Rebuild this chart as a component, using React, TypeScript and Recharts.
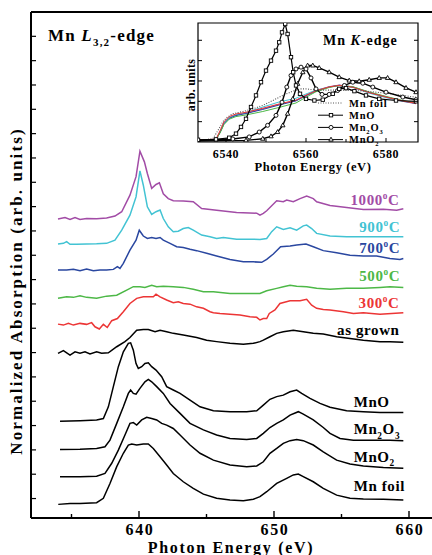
import React from "react";
import {
  LineChart,
  Line,
  XAxis,
  YAxis,
  ReferenceLine,
  ReferenceDot,
  ReferenceArea,
  Legend,
} from "recharts";

type Pt = [number, number];

// ---- Mn L3,2-edge (photon energy in eV, stacked absorption in arb. units) ----
const lT1000: Pt[] = [
  [634.0, 11.49], [634.52, 11.55], [634.89, 11.47], [635.26, 11.55], [635.63, 11.47], [636.12, 11.51],
  [636.86, 11.5], [637.6, 11.53], [638.22, 11.61], [638.72, 11.79], [639.33, 12.47], [639.78, 13.23],
  [640.07, 14.28], [640.4, 13.84], [640.62, 13.36], [640.94, 12.75], [641.26, 12.91], [641.51, 12.98],
  [641.8, 12.53], [642.17, 12.33], [642.54, 12.24], [643.28, 12.23], [644.02, 12.2], [644.64, 11.92],
  [645.75, 11.85], [647.23, 11.76], [648.72, 11.73], [648.96, 11.65], [649.21, 11.72], [649.46, 11.83],
  [650.2, 12.24], [650.69, 12.2], [650.94, 12.27], [651.43, 12.2], [651.93, 12.33], [652.42, 12.43],
  [652.91, 12.33], [653.16, 12.2], [654.15, 12.05], [655.38, 11.96], [656.62, 11.88], [658.1, 11.89],
  [659.09, 11.85], [659.58, 11.91],
];
const lT900: Pt[] = [
  [634.0, 10.46], [634.4, 10.49], [634.64, 10.56], [634.89, 10.45], [635.38, 10.45], [636.12, 10.46],
  [636.86, 10.47], [637.6, 10.49], [638.22, 10.62], [638.72, 11.03], [639.33, 11.65], [639.78, 12.4],
  [640.07, 13.47], [640.32, 12.88], [640.62, 11.99], [640.94, 11.68], [641.26, 11.79], [641.56, 11.86],
  [641.8, 11.51], [642.17, 11.17], [642.54, 10.97], [642.91, 10.99], [643.28, 11.1], [643.65, 11.14],
  [644.02, 11.03], [644.64, 10.83], [645.26, 10.76], [645.75, 10.69], [646.25, 10.73], [647.23, 10.66],
  [648.22, 10.66], [648.96, 10.65], [649.46, 10.69], [649.83, 10.97], [650.2, 11.17], [650.69, 11.06],
  [651.19, 11.13], [651.68, 11.03], [652.17, 11.21], [652.42, 11.24], [652.79, 11.1], [653.16, 10.9],
  [654.15, 10.79], [655.38, 10.76], [656.62, 10.76], [658.1, 10.76], [659.58, 10.76],
];
const lT700: Pt[] = [
  [634.0, 9.39], [634.64, 9.39], [635.14, 9.42], [635.63, 9.36], [636.12, 9.43], [636.62, 9.36],
  [637.11, 9.39], [637.6, 9.39], [638.1, 9.42], [638.4, 9.53], [638.59, 9.46], [638.84, 9.67],
  [639.33, 10.21], [639.78, 10.62], [640.02, 11.03], [640.32, 10.79], [640.62, 10.69], [640.94, 10.73],
  [641.26, 10.69], [641.56, 10.73], [641.8, 10.62], [642.3, 10.49], [642.79, 10.35], [643.28, 10.32],
  [643.78, 10.25], [644.27, 10.19], [645.01, 10.08], [645.75, 9.97], [646.74, 9.83], [647.73, 9.73],
  [648.47, 9.73], [649.09, 9.71], [649.46, 9.83], [649.95, 10.05], [650.49, 10.35], [651.19, 10.38],
  [651.68, 10.42], [652.37, 10.46], [652.91, 10.35], [653.65, 10.19], [654.64, 10.1], [655.63, 10.0],
  [656.62, 9.97], [657.6, 9.97], [658.59, 9.87], [659.33, 9.83], [659.58, 9.87],
];
const lT500: Pt[] = [
  [634.0, 8.23], [634.64, 8.29], [635.14, 8.27], [635.63, 8.34], [636.12, 8.27], [636.86, 8.23],
  [637.6, 8.32], [638.35, 8.36], [639.09, 8.57], [639.58, 8.71], [640.07, 8.71], [640.44, 8.68],
  [640.94, 8.77], [641.31, 8.71], [641.8, 8.73], [642.54, 8.71], [643.28, 8.68], [644.02, 8.6],
  [644.77, 8.5], [645.51, 8.5], [646.74, 8.43], [647.98, 8.43], [648.96, 8.43], [649.46, 8.54],
  [650.2, 8.64], [650.69, 8.71], [651.19, 8.77], [651.68, 8.73], [652.42, 8.71], [653.16, 8.64],
  [654.15, 8.6], [655.38, 8.64], [656.62, 8.64], [657.85, 8.68], [658.59, 8.71], [659.58, 8.68],
];
const lT300: Pt[] = [
  [634.0, 7.17], [634.4, 7.13], [634.77, 7.2], [635.14, 7.13], [635.63, 7.2], [636.12, 7.16],
  [636.49, 7.23], [636.74, 7.06], [637.06, 6.97], [637.36, 7.16], [637.65, 7.03], [637.98, 7.31],
  [638.4, 7.4], [638.84, 7.68], [639.33, 8.02], [639.83, 8.23], [640.32, 8.29], [640.69, 8.29],
  [641.06, 8.29], [641.26, 8.4], [641.56, 8.29], [642.05, 8.16], [642.54, 8.05], [642.91, 8.09],
  [643.28, 8.02], [643.78, 7.99], [644.27, 7.88], [644.77, 7.82], [645.26, 7.68], [645.51, 7.64],
  [646.0, 7.61], [646.74, 7.58], [647.48, 7.54], [648.22, 7.47], [648.72, 7.45], [648.96, 7.34],
  [649.21, 7.4], [649.46, 7.4], [649.65, 7.61], [650.07, 7.75], [650.44, 8.02], [651.19, 8.13],
  [651.93, 8.13], [652.42, 8.19], [652.79, 7.95], [653.16, 7.82], [653.65, 7.77], [654.15, 7.75],
  [655.14, 7.68], [655.88, 7.61], [656.62, 7.64], [657.85, 7.58], [659.58, 7.64],
];
const lGrown: Pt[] = [
  [634.0, 5.97], [634.4, 6.08], [634.89, 5.9], [635.26, 6.03], [635.63, 5.97], [636.0, 6.03],
  [636.37, 5.94], [636.86, 6.03], [637.23, 5.97], [637.73, 5.99], [638.35, 6.24], [638.96, 6.45],
  [639.33, 6.62], [639.83, 6.92], [640.32, 6.95], [640.69, 6.95], [641.19, 6.86], [641.56, 6.92],
  [642.05, 6.86], [642.54, 6.79], [643.28, 6.72], [644.27, 6.62], [645.01, 6.51], [645.75, 6.45],
  [646.74, 6.38], [647.73, 6.34], [648.47, 6.38], [648.96, 6.45], [649.21, 6.51], [649.7, 6.65],
  [650.2, 6.79], [650.69, 6.86], [651.43, 6.92], [652.17, 6.86], [652.91, 6.79], [653.65, 6.76],
  [654.64, 6.65], [655.63, 6.58], [656.62, 6.51], [657.85, 6.45], [658.59, 6.45], [659.58, 6.42],
];
const lMnO: Pt[] = [
  [634.15, 3.18], [635.63, 3.2], [636.86, 3.23], [637.36, 3.29], [637.73, 3.77], [638.1, 4.6],
  [638.47, 5.42], [638.84, 6.03], [639.21, 6.38], [639.38, 6.4], [639.58, 6.1], [639.78, 5.55],
  [639.95, 5.35], [640.2, 5.42], [640.44, 5.55], [640.69, 5.58], [640.94, 5.42], [641.26, 5.28],
  [641.68, 5.01], [642.05, 4.6], [642.54, 4.46], [643.04, 4.32], [643.78, 4.05], [644.52, 3.77],
  [645.51, 3.61], [646.74, 3.57], [647.98, 3.57], [648.72, 3.61], [649.21, 3.84], [649.7, 4.08],
  [650.2, 4.19], [650.69, 4.25], [651.19, 4.39], [651.68, 4.46], [652.05, 4.32], [652.67, 4.12],
  [653.41, 3.91], [654.15, 3.75], [655.38, 3.61], [656.62, 3.57], [657.85, 3.54], [659.58, 3.54],
];
const lMn2O3: Pt[] = [
  [634.15, 2.02], [635.63, 2.03], [636.86, 2.06], [637.48, 2.13], [637.85, 2.4], [638.35, 3.09],
  [638.84, 3.77], [639.21, 4.32], [639.38, 4.46], [639.58, 4.32], [639.78, 4.29], [640.07, 4.53],
  [640.44, 4.8], [640.69, 4.9], [640.94, 4.8], [641.31, 4.6], [641.8, 4.32], [642.3, 3.91],
  [643.04, 3.5], [643.78, 3.09], [644.77, 2.82], [645.75, 2.61], [646.74, 2.47], [647.98, 2.43],
  [648.72, 2.47], [649.21, 2.68], [649.7, 2.92], [650.2, 3.09], [650.69, 3.23], [651.19, 3.43],
  [651.8, 3.57], [652.17, 3.47], [652.91, 3.23], [653.65, 2.92], [654.15, 2.68], [654.89, 2.47],
  [655.88, 2.4], [657.11, 2.4], [658.59, 2.4], [659.58, 2.38],
];
const lMnO2: Pt[] = [
  [634.15, 0.9], [635.63, 0.9], [636.86, 0.92], [637.48, 1.03], [637.98, 1.45], [638.47, 1.99],
  [638.96, 2.61], [639.33, 3.09], [639.58, 3.12], [639.83, 3.02], [640.2, 3.23], [640.57, 3.34],
  [640.94, 3.29], [641.31, 3.23], [641.68, 3.09], [642.05, 3.02], [642.54, 2.88], [643.04, 2.61],
  [643.78, 2.2], [644.52, 1.86], [645.51, 1.58], [646.74, 1.38], [647.98, 1.31], [648.72, 1.34],
  [649.21, 1.51], [649.7, 1.86], [650.2, 2.06], [650.69, 2.27], [651.19, 2.38], [651.68, 2.43],
  [652.17, 2.38], [652.91, 2.2], [653.65, 1.92], [654.64, 1.58], [655.63, 1.42], [656.62, 1.34],
  [658.1, 1.28], [659.58, 1.24],
];
const lMnFoil: Pt[] = [
  [634.02, -0.24], [634.89, -0.2], [635.63, -0.2], [636.86, -0.17], [637.36, 0.01], [637.85, 0.62],
  [638.35, 1.31], [638.84, 1.86], [639.21, 2.2], [639.46, 2.24], [639.83, 2.2], [640.32, 2.24],
  [640.69, 2.24], [641.06, 2.06], [641.56, 1.72], [642.05, 1.38], [642.54, 1.03], [643.28, 0.69],
  [644.02, 0.42], [644.77, 0.18], [645.75, 0.01], [646.74, -0.06], [647.73, -0.09], [648.47, -0.03],
  [648.96, 0.08], [649.46, 0.28], [650.2, 0.62], [650.94, 0.83], [651.43, 0.97], [651.8, 1.01],
  [652.17, 0.9], [652.91, 0.69], [653.65, 0.42], [654.64, 0.14], [655.63, 0.01], [656.62, -0.02],
  [658.1, -0.03], [659.58, -0.06],
];

// ---- Mn K-edge inset (photon energy in eV, arb. units) ----
const kMnO: Pt[] = [
  [6533, 0.11], [6537.5, 0.13], [6540.8, 0.21], [6542.5, 0.41], [6543.75, 0.74], [6545, 1.14],
  [6546.25, 1.72], [6547.5, 2.29], [6548.75, 2.94], [6550, 3.51], [6551.25, 4.0], [6552.5, 4.49],
  [6553.3, 4.9], [6554, 5.39], [6554.8, 5.8], [6555.4, 5.31], [6556.25, 4.17], [6556.8, 3.43],
  [6557.5, 2.78], [6558.5, 2.37], [6560, 2.12], [6562.1, 2.04], [6564.2, 2.08], [6566.7, 2.37],
  [6568.3, 2.61], [6570, 2.65], [6572.1, 2.5], [6575, 2.29], [6578.3, 2.12], [6582.5, 2.04], [6587.5, 2.0],
];
const kMn2O3: Pt[] = [
  [6533, 0.08], [6541.7, 0.15], [6545.8, 0.25], [6548.3, 0.49], [6550.4, 0.82], [6552.5, 1.31],
  [6554, 1.96], [6555.2, 2.7], [6556.25, 3.27], [6557.5, 3.59], [6558.75, 3.68], [6560, 3.59],
  [6561.25, 3.15], [6562.5, 2.61], [6564, 2.34], [6565.8, 2.34], [6567.9, 2.53], [6569.6, 2.78],
  [6571.7, 2.94], [6574.2, 2.89], [6576.7, 2.7], [6580, 2.45], [6584.2, 2.21], [6587.5, 2.08],
];
const kMnO2: Pt[] = [
  [6533, 0.05], [6545, 0.08], [6549.2, 0.16], [6551.25, 0.28], [6552.9, 0.49], [6554.2, 0.82],
  [6555.4, 1.39], [6556.7, 2.12], [6557.9, 2.86], [6559.2, 3.43], [6560.4, 3.76], [6561.7, 3.76],
  [6563.3, 3.64], [6565.8, 3.43], [6568.3, 3.19], [6570.8, 3.02], [6573.3, 2.99], [6575.8, 3.06],
  [6578.3, 3.15], [6580.4, 3.15], [6582.5, 2.94], [6585, 2.66], [6587.5, 2.45],
];
const kMnFoil: Pt[] = [
  [6533, 0.08], [6536.7, 0.16], [6537.5, 0.41], [6538.5, 0.74], [6539.2, 1.0], [6540.4, 1.23],
  [6541.7, 1.39], [6544.2, 1.5], [6546.7, 1.63], [6549.2, 1.8], [6551.7, 2.04], [6554.2, 2.29],
  [6556.7, 2.5], [6558.5, 2.61], [6560, 2.61], [6562.5, 2.55], [6565, 2.55], [6570, 2.55],
  [6575, 2.5], [6580, 2.4], [6587.5, 2.2],
];
const kT1000: Pt[] = [
  [6533, 0.1], [6537.5, 0.13], [6538.5, 0.5], [6539.5, 0.95], [6540.8, 1.2], [6542.5, 1.33],
  [6545, 1.42], [6549.2, 1.63], [6553.3, 1.85], [6557.5, 2.04], [6560, 2.3], [6562.5, 2.53],
  [6565.8, 2.72], [6568.3, 2.8], [6571.7, 2.7], [6575.8, 2.42], [6580, 2.2], [6584.2, 2.0], [6587.5, 1.88],
];
const kT900: Pt[] = [
  [6533, 0.1], [6537.5, 0.13], [6538.5, 0.48], [6539.5, 0.92], [6540.8, 1.18], [6542.5, 1.32],
  [6545, 1.45], [6549.2, 1.72], [6553.3, 1.97], [6557.5, 2.15], [6560, 2.36], [6562.5, 2.55],
  [6565.8, 2.7], [6568.3, 2.77], [6571.7, 2.68], [6575.8, 2.4], [6580, 2.18], [6584.2, 2.0], [6587.5, 1.9],
];
const kT700: Pt[] = [
  [6533, 0.1], [6537.5, 0.12], [6538.5, 0.46], [6539.5, 0.9], [6540.8, 1.16], [6542.5, 1.3],
  [6545, 1.4], [6549.2, 1.6], [6553.3, 1.82], [6557.5, 2.02], [6560, 2.27], [6562.5, 2.5],
  [6565.8, 2.7], [6568.3, 2.79], [6571.7, 2.71], [6575.8, 2.44], [6580, 2.22], [6584.2, 2.02], [6587.5, 1.9],
];
const kT500: Pt[] = [
  [6533, 0.1], [6537.5, 0.12], [6538.5, 0.44], [6539.5, 0.86], [6540.8, 1.12], [6542.5, 1.25],
  [6545, 1.33], [6549.2, 1.5], [6553.3, 1.7], [6557.5, 1.92], [6560, 2.2], [6562.5, 2.47],
  [6565.8, 2.68], [6568.3, 2.78], [6571.7, 2.72], [6575.8, 2.46], [6580, 2.24], [6584.2, 2.04], [6587.5, 1.92],
];
const kT300: Pt[] = [
  [6533, 0.1], [6537.5, 0.14], [6538.5, 0.55], [6539.5, 1.0], [6540.8, 1.25], [6542.5, 1.38],
  [6545, 1.46], [6549.2, 1.66], [6553.3, 1.87], [6557.5, 2.06], [6560, 2.3], [6562.5, 2.52],
  [6565.8, 2.71], [6568.3, 2.78], [6571.7, 2.69], [6575.8, 2.43], [6580, 2.21], [6584.2, 2.02], [6587.5, 1.9],
];

const mainXTicks = [635, 640, 645, 650, 655, 660];
const mainYTicks = [0, 1, 2, 3, 4, 5, 6, 7, 8, 9, 10, 11, 12, 13, 14, 15, 16, 17, 18, 19, 20];
const insetXTicks = [6540, 6550, 6560, 6570, 6580];
const insetYTicks = [1, 2, 3, 4, 5];

type Part = [string, "" | "sub" | "sup"];
const tag1000: Part[] = [["1000", ""], ["o", "sup"], ["C", ""]];
const tag900: Part[] = [["900", ""], ["o", "sup"], ["C", ""]];
const tag700: Part[] = [["700", ""], ["o", "sup"], ["C", ""]];
const tag500: Part[] = [["500", ""], ["o", "sup"], ["C", ""]];
const tag300: Part[] = [["300", ""], ["o", "sup"], ["C", ""]];
const tagGrown: Part[] = [["as grown", ""]];
const tagMnO: Part[] = [["MnO", ""]];
const tagMn2O3: Part[] = [["Mn", ""], ["2", "sub"], ["O", ""], ["3", "sub"]];
const tagMnO2: Part[] = [["MnO", ""], ["2", "sub"]];
const tagMnFoil: Part[] = [["Mn foil", ""]];

const C1000 = "#a24ca6";
const C900 = "#42c3d3";
const C700 = "#2a47a0";
const C500 = "#4db847";
const C300 = "#ec3535";

const toRows = (pts: Pt[]) => pts.map(([e, a]) => ({ e, a }));

const mainSeries = [
  { name: "1000", pts: lT1000, color: C1000, tag: tag1000, at: [659.3, 12.27], anchor: "end" },
  { name: "900", pts: lT900, color: C900, tag: tag900, at: [659.35, 11.17], anchor: "end" },
  { name: "700", pts: lT700, color: C700, tag: tag700, at: [659.35, 10.28], anchor: "end" },
  { name: "500", pts: lT500, color: C500, tag: tag500, at: [659.35, 9.16], anchor: "end" },
  { name: "300", pts: lT300, color: C300, tag: tag300, at: [659.3, 8.05], anchor: "end" },
  { name: "grown", pts: lGrown, color: "#000", tag: tagGrown, at: [659.3, 6.93], anchor: "end" },
  { name: "MnO", pts: lMnO, color: "#000", tag: tagMnO, at: [655.9, 3.95], anchor: "start" },
  { name: "Mn2O3", pts: lMn2O3, color: "#000", tag: tagMn2O3, at: [655.9, 2.84], anchor: "start" },
  { name: "MnO2", pts: lMnO2, color: "#000", tag: tagMnO2, at: [655.9, 1.72], anchor: "start" },
  { name: "foil", pts: lMnFoil, color: "#000", tag: tagMnFoil, at: [655.9, 0.51], anchor: "start" },
];

const insetSamples = [
  { name: "k1000", pts: kT1000, color: C1000 },
  { name: "k900", pts: kT900, color: C900 },
  { name: "k700", pts: kT700, color: C700 },
  { name: "k500", pts: kT500, color: C500 },
  { name: "k300", pts: kT300, color: C300 },
];

const SERIF = "'Liberation Serif', 'Times New Roman', serif";
const bold = (size: number, ls = 0): React.CSSProperties => ({
  fontFamily: SERIF,
  fontWeight: 700,
  fontSize: size,
  letterSpacing: ls,
});

function RichText({ parts, size }: { parts: Part[]; size: number }) {
  let shift = 0;
  return (
    <>
      {parts.map(([s, kind], i) => {
        const target = kind === "sup" ? -size * 0.4 : kind === "sub" ? size * 0.3 : 0;
        const dy = target - shift;
        shift = target;
        return (
          <tspan key={i} dy={dy} fontSize={kind ? size * 0.62 : size}>
            {s}
          </tspan>
        );
      })}
    </>
  );
}

const MainXTick = (props: any) => {
  const { x, y, payload } = props;
  const major = payload.value % 10 === 0;
  return (
    <g>
      <line x1={x} x2={x} y1={y} y2={y - (major ? 7 : 4)} stroke="#000" strokeWidth={1.4} />
      {major && (
        <text x={x + 1} y={y + 16.5} textAnchor="middle" fill="#000" style={bold(16, 1.6)}>
          {payload.value}
        </text>
      )}
    </g>
  );
};

const MainYTick = (props: any) => {
  const { x, y } = props;
  return <line x1={x} x2={x + 5} y1={y} y2={y} stroke="#000" strokeWidth={1.2} />;
};

const InsetXTick = (props: any) => {
  const { x, y, payload } = props;
  const major = payload.value % 20 === 0;
  return (
    <g>
      <line x1={x} x2={x} y1={y} y2={y - (major ? 4 : 3)} stroke="#000" strokeWidth={1} />
      {major && (
        <text x={x} y={y + 15.5} textAnchor="middle" fill="#000" style={bold(12, 0.6)}>
          {payload.value}
        </text>
      )}
    </g>
  );
};

const InsetLTick = (props: any) => (
  <line x1={props.x} x2={props.x + 4} y1={props.y} y2={props.y} stroke="#000" strokeWidth={1} />
);
const InsetRTick = (props: any) => (
  <line x1={props.x} x2={props.x - 4} y1={props.y} y2={props.y} stroke="#000" strokeWidth={1} />
);

const SquareDot = (p: any) =>
  p.cx == null ? <g /> : (
    <rect x={p.cx - 1.7} y={p.cy - 1.7} width={3.4} height={3.4} fill="#fff" stroke="#000" strokeWidth={0.9} />
  );
const CircleDot = (p: any) =>
  p.cx == null ? <g /> : <circle cx={p.cx} cy={p.cy} r={2} fill="#fff" stroke="#000" strokeWidth={0.9} />;
const TriDot = (p: any) =>
  p.cx == null ? <g /> : (
    <path
      d={`M${p.cx},${p.cy - 2.4}L${p.cx + 2.2},${p.cy + 1.5}L${p.cx - 2.2},${p.cy + 1.5}Z`}
      fill="#fff"
      stroke="#000"
      strokeWidth={0.9}
    />
  );

const insetLegendItems: { parts: Part[]; marker: string }[] = [
  { parts: [["Mn foil", ""]], marker: "dotted" },
  { parts: [["MnO", ""]], marker: "square" },
  { parts: [["Mn", ""], ["2", "sub"], ["O", ""], ["3", "sub"]], marker: "circle" },
  { parts: [["MnO", ""], ["2", "sub"]], marker: "triangle" },
];

const InsetLegend = () => (
  <svg width={110} height={52} style={{ overflow: "visible", display: "block" }}>
    {insetLegendItems.map((it, i) => {
      const cy = 6 + i * 12.2;
      const m = { cx: 13, cy };
      return (
        <g key={i}>
          <line
            x1={0}
            x2={25}
            y1={cy}
            y2={cy}
            stroke={it.marker === "dotted" ? "#555" : "#000"}
            strokeWidth={1}
            strokeDasharray={it.marker === "dotted" ? "1 1.5" : undefined}
          />
          {it.marker === "square" && <SquareDot {...m} />}
          {it.marker === "circle" && <CircleDot {...m} />}
          {it.marker === "triangle" && <TriDot {...m} />}
          <text x={31} y={cy + 3.5} fill="#000" style={bold(10.5, 0.8)}>
            <RichText parts={it.parts} size={10.5} />
          </text>
        </g>
      );
    })}
  </svg>
);

export default function App() {
  return (
    <div
      style={{
        position: "absolute",
        left: 0,
        top: 0,
        width: 432,
        height: 555,
        overflow: "hidden",
        background: "#fff",
      }}
    >
      {/* main panel: Mn L3,2-edge */}
      <div style={{ position: "absolute", left: 0, top: 0 }}>
        <LineChart width={470} height={555} margin={{ top: 12, right: 7, bottom: 7, left: 30 }}>
          <XAxis
            type="number"
            dataKey="e"
            domain={[632, 664]}
            ticks={mainXTicks}
            interval={0}
            allowDataOverflow
            height={30}
            tickSize={0}
            tickMargin={0}
            tickLine={false}
            tick={<MainXTick />}
            axisLine={{ stroke: "#000", strokeWidth: 2 }}
          />
          <YAxis
            type="number"
            domain={[-0.8, 20]}
            ticks={mainYTicks}
            interval={0}
            allowDataOverflow
            width={1}
            tickSize={0}
            tickMargin={0}
            tickLine={false}
            tick={<MainYTick />}
            axisLine={{ stroke: "#000", strokeWidth: 2 }}
          />
          <ReferenceLine y={20} stroke="#000" strokeWidth={2} />
          {mainSeries.map((s) => (
            <Line
              key={s.name}
              data={toRows(s.pts)}
              dataKey="a"
              type="linear"
              stroke={s.color}
              strokeWidth={1.5}
              dot={false}
              activeDot={false}
              isAnimationActive={false}
            />
          ))}
          {mainSeries.map((s) => (
            <ReferenceDot
              key={"tag" + s.name}
              x={s.at[0]}
              y={s.at[1]}
              r={0}
              shape={(p: any) => (
                <text
                  x={p.cx}
                  y={p.cy + 5}
                  textAnchor={s.anchor as any}
                  fill={s.color}
                  style={bold(15, 0.6)}
                >
                  <RichText parts={s.tag} size={15} />
                </text>
              )}
            />
          ))}
        </LineChart>
      </div>

      {/* inset: Mn K-edge */}
      <div style={{ position: "absolute", left: 150, top: 0 }}>
        <LineChart width={278} height={180} margin={{ top: 23, right: 9, bottom: 8, left: 47 }}>
          <XAxis
            type="number"
            dataKey="e"
            domain={[6533, 6588]}
            ticks={insetXTicks}
            interval={0}
            allowDataOverflow
            height={30}
            tickSize={0}
            tickMargin={0}
            tickLine={false}
            axisLine={false}
            tick={<InsetXTick />}
          />
          <YAxis
            type="number"
            domain={[0, 5.85]}
            ticks={insetYTicks}
            interval={0}
            allowDataOverflow
            width={1}
            tickSize={0}
            tickMargin={0}
            tickLine={false}
            axisLine={false}
            tick={<InsetLTick />}
          />
          <YAxis
            yAxisId="r"
            orientation="right"
            type="number"
            domain={[0, 5.85]}
            ticks={insetYTicks}
            interval={0}
            allowDataOverflow
            width={1}
            tickSize={0}
            tickMargin={0}
            tickLine={false}
            axisLine={false}
            tick={<InsetRTick />}
          />
          <ReferenceArea x1={6533} x2={6588} y1={0} y2={5.85} fill="none" stroke="#000" strokeWidth={1.2} />
          {insetSamples.map((s) => (
            <Line
              key={s.name}
              data={toRows(s.pts)}
              dataKey="a"
              type="linear"
              stroke={s.color}
              strokeWidth={1}
              dot={false}
              activeDot={false}
              isAnimationActive={false}
            />
          ))}
          <Line
            data={toRows(kMnFoil)}
            dataKey="a"
            type="linear"
            stroke="#555"
            strokeWidth={1.1}
            strokeDasharray="1 1.5"
            dot={false}
            activeDot={false}
            isAnimationActive={false}
          />
          <Line
            data={toRows(kMnO2)}
            dataKey="a"
            type="linear"
            stroke="#000"
            strokeWidth={1.4}
            dot={<TriDot />}
            activeDot={false}
            isAnimationActive={false}
          />
          <Line
            data={toRows(kMn2O3)}
            dataKey="a"
            type="linear"
            stroke="#000"
            strokeWidth={1.4}
            dot={<CircleDot />}
            activeDot={false}
            isAnimationActive={false}
          />
          <Line
            data={toRows(kMnO)}
            dataKey="a"
            type="linear"
            stroke="#000"
            strokeWidth={1.2}
            dot={<SquareDot />}
            activeDot={false}
            isAnimationActive={false}
          />
          <Legend
            content={() => <InsetLegend />}
            wrapperStyle={{ left: 168, top: 97, width: 0, height: 0, overflow: "visible" }}
          />
        </LineChart>
      </div>

      {/* titles */}
      <svg
        width={432}
        height={555}
        style={{ position: "absolute", left: 0, top: 0, pointerEvents: "none" }}
      >
        <text x={48} y={41} fill="#000" style={bold(17, 1.2)}>
          <tspan>Mn </tspan>
          <tspan fontStyle="italic">L</tspan>
          <tspan dy={5} fontSize={11}>3,2</tspan>
          <tspan dy={-5}>-edge</tspan>
        </text>
        <text
          transform="translate(22,291) rotate(-90)"
          textAnchor="middle"
          fill="#000"
          style={bold(17, 2.1)}
        >
          Normalized Absorption (arb. units)
        </text>
        <text x={231} y={553} textAnchor="middle" fill="#000" style={bold(16, 1.7)}>
          Photon Energy (eV)
        </text>
        <text x={323} y={45} fill="#000" style={bold(14, 1)}>
          <tspan>Mn </tspan>
          <tspan fontStyle="italic">K</tspan>
          <tspan>-edge</tspan>
        </text>
        <text
          transform="translate(195,85) rotate(-90)"
          textAnchor="middle"
          fill="#000"
          style={bold(12, 0.3)}
        >
          arb. units
        </text>
        <text x={313} y={170.5} textAnchor="middle" fill="#000" style={bold(12.5, 0.6)}>
          Photon Energy (eV)
        </text>
      </svg>
    </div>
  );
}
